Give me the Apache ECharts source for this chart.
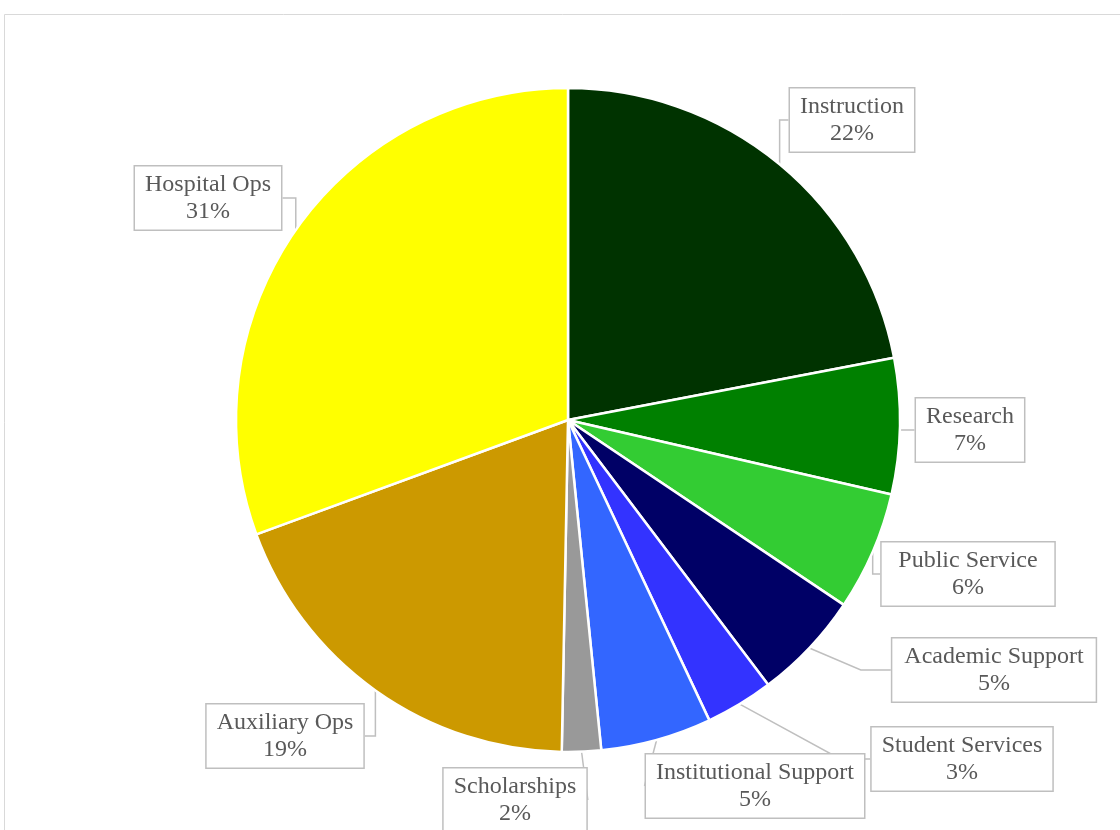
<!DOCTYPE html>
<html>
<head>
<meta charset="utf-8">
<script src="https://cdn.jsdelivr.net/npm/echarts@6/dist/echarts.min.js"></script>
<style>
  html, body { margin: 0; padding: 0; background: #fff; }
  #chart { width: 1120px; height: 830px; }
</style>
</head>
<body>
<div id="chart"></div>
<script>
// categories and values (share of budget, %)
const categories = ['Instruction', 'Research', 'Public Service', 'Academic Support', 'Student Services',
  'Institutional Support', 'Scholarships', 'Auxiliary Ops', 'Hospital Ops']
const values = [22.0, 6.6, 5.8, 5.3, 3.3, 5.4, 1.9, 19.1, 30.6]
const colors = ['#003300', '#008000', '#33cc33', '#000066', '#3333ff', '#3366ff', '#999999', '#cc9900', '#ffff00']

// where each callout box sits (centre, px)
const labelX = [852, 970, 968, 994, 962, 755, 515, 285, 208]
const labelY = [120, 430, 574, 670, 759, 786, 800, 736, 198]

let myChart = echarts.init(document.getElementById('chart'))

myChart.setOption({
  animation: false,
  graphic: [
    {
      type: 'rect',
      shape: { x: 4.5, y: 14.5, width: 1300, height: 1000 },
      style: { fill: 'none', stroke: '#d9d9d9', lineWidth: 1 }
    }
  ],
  series: [
    {
      type: 'pie',
      center: [568, 420],
      radius: 332,
      startAngle: 90,
      clockwise: true,
      percentPrecision: 0,
      itemStyle: {
        borderColor: '#fff',
        borderWidth: 2.5
      },
      label: {
        show: true,
        formatter: '{b}\n{d}%',
        fontFamily: 'Liberation Serif',
        fontSize: 24,
        lineHeight: 27,
        color: '#595959',
        backgroundColor: '#fff',
        borderColor: '#bfbfbf',
        borderWidth: 1.5,
        padding: [5, 10, 4, 10],
        align: 'center'
      },
      labelLine: {
        show: true,
        lineStyle: { color: '#bfbfbf', width: 1.5 }
      },
      labelLayout: function (params) {
        const i = params.dataIndex
        return {
          x: labelX[i],
          y: labelY[i],
          align: 'center',
          verticalAlign: 'middle'
        }
      },
      data: categories.map((name, i) => ({
        name: name,
        value: values[i],
        itemStyle: { color: colors[i] }
      }))
    }
  ]
})
</script>
</body>
</html>
